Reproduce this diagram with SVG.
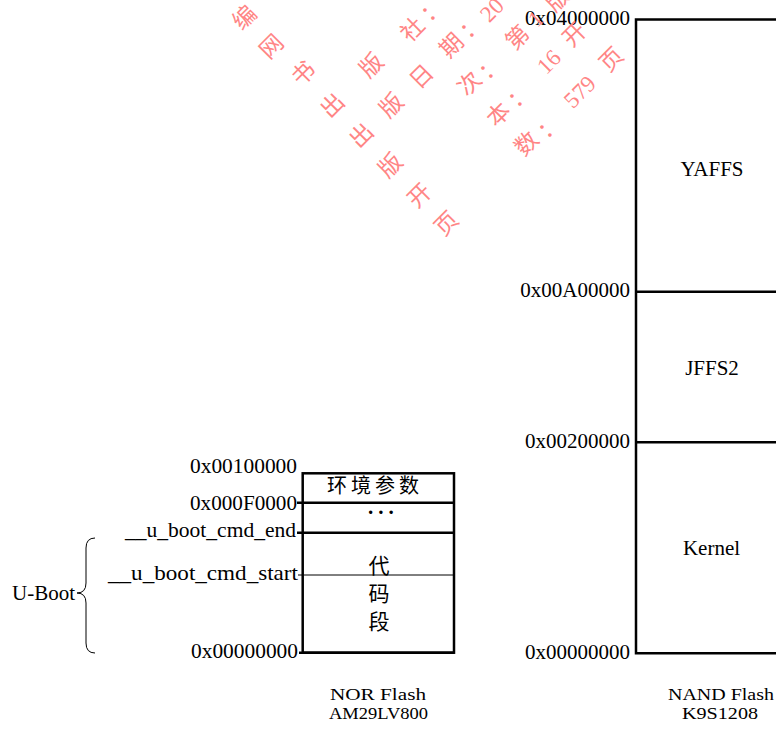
<svg xmlns="http://www.w3.org/2000/svg" width="776" height="729" viewBox="0 0 776 729">
<style>
.lbl{font-family:"Liberation Serif",serif;font-size:21px;fill:#000}
.sm{font-size:17px}
.cjk{font-family:"Noto Sans CJK SC","Noto Sans CJK JP",sans-serif;fill:#000;text-anchor:middle;dominant-baseline:central}
.thick{stroke:#000;stroke-width:2.5;fill:none}
.thin{stroke:#000;stroke-width:1;fill:none}
.wm{font-family:"Noto Sans CJK SC",sans-serif;font-size:23px;fill:#ff8585;text-anchor:middle;dominant-baseline:central}
.wmd{font-family:"Liberation Serif",serif;font-size:23px;fill:#ff8585;text-anchor:middle;dominant-baseline:central}
</style>
<rect width="776" height="729" fill="#fff"/>

<g id="nor-flash">
  <rect class="thick" x="302.7" y="473.3" width="151.3" height="179.4"/>
  <line class="thick" x1="297" y1="502.7" x2="454" y2="502.7"/>
  <line class="thick" x1="297" y1="532.7" x2="454" y2="532.7"/>
  <line class="thick" x1="299" y1="652.7" x2="454" y2="652.7"/>
  <line class="thin" x1="298" y1="575" x2="454" y2="575"/>
  <text class="cjk" x="375" y="484" font-size="20" letter-spacing="4">环境参数</text>
  <text class="lbl" x="368" y="514" font-size="13" font-weight="bold" letter-spacing="5">...</text>
  <text class="cjk" x="379" y="564" font-size="21">代</text>
  <text class="cjk" x="379" y="592" font-size="21">码</text>
  <text class="cjk" x="379" y="620" font-size="21">段</text>
  <text class="lbl" x="297" y="473" text-anchor="end" textLength="107" lengthAdjust="spacingAndGlyphs">0x00100000</text>
  <text class="lbl" x="297" y="510" text-anchor="end" textLength="107" lengthAdjust="spacingAndGlyphs">0x000F0000</text>
  <text class="lbl" x="296" y="537" text-anchor="end" textLength="171" lengthAdjust="spacingAndGlyphs">__u_boot_cmd_end</text>
  <text class="lbl" x="298" y="580" text-anchor="end" textLength="190" lengthAdjust="spacingAndGlyphs">__u_boot_cmd_start</text>
  <text class="lbl" x="298" y="658" text-anchor="end" textLength="107" lengthAdjust="spacingAndGlyphs">0x00000000</text>
  <text class="lbl sm" x="330" y="700" textLength="96" lengthAdjust="spacingAndGlyphs">NOR Flash</text>
  <text class="lbl sm" x="329" y="719" textLength="99" lengthAdjust="spacingAndGlyphs">AM29LV800</text>
</g>

<g id="uboot">
  <text class="lbl" x="12" y="600" textLength="63" lengthAdjust="spacingAndGlyphs">U-Boot</text>
</g>

<g id="nand-flash">
  <polyline class="thick" points="780,19.5 636,19.5 636,653.3 780,653.3"/>
  <line class="thick" x1="636" y1="291.7" x2="780" y2="291.7"/>
  <line class="thick" x1="636" y1="442.3" x2="780" y2="442.3"/>
  <text class="lbl" x="630" y="25" text-anchor="end">0x04000000</text>
  <text class="lbl" x="630" y="297" text-anchor="end">0x00A00000</text>
  <text class="lbl" x="630" y="448" text-anchor="end">0x00200000</text>
  <text class="lbl" x="630" y="659" text-anchor="end">0x00000000</text>
  <text class="lbl" x="712" y="176" text-anchor="middle">YAFFS</text>
  <text class="lbl" x="712" y="375" text-anchor="middle">JFFS2</text>
  <text class="lbl" x="711.5" y="555" text-anchor="middle">Kernel</text>
  <text class="lbl sm" x="668" y="700" textLength="106" lengthAdjust="spacingAndGlyphs">NAND Flash</text>
  <text class="lbl sm" x="682" y="719" textLength="76" lengthAdjust="spacingAndGlyphs">K9S1208</text>
</g>

<g id="connectors">
  <path class="thin" d="M95,538 Q86,538 86,548 L86,583 Q86,593 77,593 Q86,593 86,603 L86,643 Q86,653 95,653"/>
</g>

<g id="watermark">
  <text class="wm" transform="translate(243,16) rotate(-45)">编</text>
  <text class="wm" transform="translate(270,45) rotate(-45)">网</text>
  <text class="wm" transform="translate(302,72) rotate(-45)">书</text>
  <text class="wm" transform="translate(331,104) rotate(-45)">出</text>
  <text class="wm" transform="translate(370,64) rotate(-45)">版</text>
  <text class="wm" transform="translate(411,28) rotate(-45)">社</text>
  <text class="wm" transform="translate(431,8) rotate(-45)">：</text>
  <text class="wm" transform="translate(360,134) rotate(-45)">出</text>
  <text class="wm" transform="translate(390,104) rotate(-45)">版</text>
  <text class="wm" transform="translate(420,75) rotate(-45)">日</text>
  <text class="wm" transform="translate(450,44) rotate(-45)">期</text>
  <text class="wm" transform="translate(470,25) rotate(-45)">：</text>
  <text class="wmd" transform="translate(492,10) rotate(-45)">20</text>
  <text class="wm" transform="translate(389,164) rotate(-45)">版</text>
  <text class="wm" transform="translate(468,82) rotate(-45)">次</text>
  <text class="wm" transform="translate(489,66) rotate(-45)">：</text>
  <text class="wm" transform="translate(516,36) rotate(-45)">第</text>
  <text class="wmd" transform="translate(536,19) rotate(-45)">1</text>
  <text class="wm" transform="translate(556,-2) rotate(-45)">版</text>
  <text class="wm" transform="translate(418,194) rotate(-45)">开</text>
  <text class="wm" transform="translate(497,113) rotate(-45)">本</text>
  <text class="wm" transform="translate(518,94) rotate(-45)">：</text>
  <text class="wmd" transform="translate(549,62) rotate(-45)">16</text>
  <text class="wm" transform="translate(573,33) rotate(-45)">开</text>
  <text class="wm" transform="translate(445,222) rotate(-45)">页</text>
  <text class="wm" transform="translate(525,142) rotate(-45)">数</text>
  <text class="wm" transform="translate(548,125) rotate(-45)">：</text>
  <text class="wmd" transform="translate(580,92) rotate(-45)">579</text>
  <text class="wm" transform="translate(610,58) rotate(-45)">页</text>
</g>
</svg>
